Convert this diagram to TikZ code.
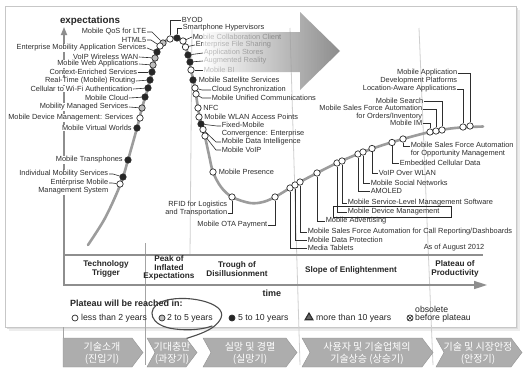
\documentclass[tikz,border=0pt]{standalone}
\usepackage{fontspec}
\setmainfont{Liberation Sans}
\newfontfamily\krfont{Noto Sans CJK KR}
\usetikzlibrary{calc, arrows.meta, shapes.geometric}
\definecolor{curveGray}{HTML}{9C9C9C}
\definecolor{axisGray}{HTML}{8E8E8E}
\definecolor{sepGray}{HTML}{CFCFCF}
\definecolor{noteGray}{HTML}{A4A4A4}
\definecolor{chevGray}{HTML}{ADADAD}
\definecolor{dotGray}{HTML}{BEBEBE}
\definecolor{inkGray}{HTML}{2E2E2E}

\begin{document}
\begin{tikzpicture}[
    x=1pt, y=-1pt,
    >=Stealth,
    lbl/.style={font=\fontsize{7.4}{8}\selectfont, inner sep=0.6pt, text=inkGray},
    lblL/.style={lbl, anchor=east, fill=white, align=right},
    lblR/.style={lbl, anchor=west, align=left},
    leader/.style={draw=inkGray, line width=0.6pt},
    dotbase/.style={circle, draw=inkGray, line width=0.7pt, minimum size=6.4pt, inner sep=0pt},
    wdot/.style={dotbase, fill=white},
    gdot/.style={dotbase, fill=dotGray},
    bdot/.style={dotbase, fill=black!85},
    phase/.style={font=\bfseries\fontsize{8.2}{8.6}\selectfont, align=center, text=black!85},
    legend/.style={font=\fontsize{8.7}{9}\selectfont, anchor=west, inner sep=0pt, text=black!85},
    chevron/.style={fill=chevGray, draw=chevGray!85!black, line width=0.4pt},
    krtext/.style={font=\krfont\fontsize{10}{12}\selectfont, text=white, align=center},
    axis/.style={draw=axisGray, line width=1.6pt},
]
\useasboundingbox (0,0) rectangle (528,372);

% ============================================
% Panel with shadow
% ============================================
\fill[black!7] (9,10) rectangle (520,331);
\fill[black!13] (7,8) rectangle (518,329);
\draw[black!22, fill=white] (5,6) rectangle (516,327);

% phase separators inside the chart
\draw[sepGray, line width=0.8pt] (192,28) -- (190,255);
\draw[sepGray, line width=0.8pt] (290,28) -- (300,365);
\draw[sepGray, line width=0.8pt] (419,28) -- (433,365);
\draw[noteGray, line width=0.8pt] (145,243) -- (145,365);
\draw[noteGray, line width=0.8pt] (63,327) -- (63,338);

% ============================================
% Axes
% ============================================
\draw[axis, -{Triangle[length=8pt, width=6pt]}] (64,285) -- (64,27);
\draw[axis] (63,255) -- (483,255);
\draw[axis, -{Triangle[length=13pt, width=8pt]}] (63,285) -- (487,285);
\node[font=\bfseries\fontsize{9.8}{10}\selectfont, text=black!85] (expect) at (90,21) {expectations};
\node[font=\bfseries\fontsize{9}{10}\selectfont, text=black!85] (time) at (272,293) {time};
\node[lblR] (asof) at (423,248) {As of August 2012};

% hype curve
\draw[curveGray, line width=2.6pt, line cap=round] plot[smooth, tension=0.55] coordinates {
    (88,245) (104,220) (116,195) (123,177) (128,160) (137,128) (142,108) (148,88)
    (152,72) (155,58) (160,46) (166,40.5) (173,37.5) (179,38.5) (184,43) (188,55)
    (191,70) (195,88) (198,108) (201,124) (205,137) (209,155) (213,172) (221,187)
    (232,197) (250,203) (263,202) (275,197) (290,188) (300,182) (317,173) (337,163)
    (358,154) (380,146) (403,139) (430,132) (455,128) (483,126.5)};

% ============================================
% Technology Trigger (labels on the left)
% ============================================
\node[gdot] (qos) at (163,43) {};
\node[lblL] (qosT) at (147,32) {Mobile QoS for LTE};
\draw[leader] (qosT.east) -- ++(5,0) -- (qos);
\node[wdot] (html) at (160,46) {};
\node[lblL] (htmlT) at (147,40) {HTML5};
\draw[leader] (htmlT.east) -- ++(4,0) -- (html);
\node[bdot] (emas) at (157,52) {};
\node[lblL] (emasT) at (147,48) {Enterprise Mobility Application Services};
\draw[leader] (emasT.east) -- (emas);
\node[gdot] (wwan) at (155,58) {};
\node[lblL] (wwanT) at (139,57) {VoIP Wireless WAN};
\draw[leader] (wwanT.east) -- (wwan);
\node[gdot] (webapp) at (153,65) {};
\node[lblL] (webappT) at (139,64) {Mobile Web Applications};
\draw[leader] (webappT.east) -- (webapp);
\node[bdot] (context) at (152,72) {};
\node[lblL] (contextT) at (138,72) {Context-Enriched Services};
\draw[leader] (contextT.east) -- (context);
\node[bdot] (routing) at (150,80) {};
\node[lblL] (routingT) at (136,81) {Real-Time (Mobile) Routing};
\draw[leader] (routingT.east) -- (routing);
\node[bdot] (wifi) at (148,88) {};
\node[lblL] (wifiT) at (133,89) {Cellular to Wi-Fi Authentication};
\draw[leader] (wifiT.east) -- (wifi);
\node[bdot] (cloud) at (145,97) {};
\node[lblL] (cloudT) at (129,98) {Mobile Cloud};
\draw[leader] (cloudT.east) -- (cloud);
\node[gdot] (managed) at (142,108) {};
\node[lblL] (managedT) at (129,107) {Mobility Managed Services};
\draw[leader] (managedT.east) -- (managed);
\node[wdot] (mdms) at (140,118) {};
\node[lblL] (mdmsT) at (134,118) {Mobile Device Management: Services};
\node[bdot] (virtual) at (137,128) {};
\node[lblL] (virtualT) at (132.5,128) {Mobile Virtual Worlds};
\node[bdot] (transph) at (128,160) {};
\node[lblL] (transphT) at (123.5,160) {Mobile Transphones};
\node[bdot] (indiv) at (123,177) {};
\node[lblL] (indivT) at (109,174) {Individual Mobility Services};
\draw[leader] (indivT.east) -- ++(4,0) -- (indiv);
\node[wdot] (emms) at (120,184) {};
\node[lblL] (emmsT) at (109,187) {Enterprise Mobile\\Management System};
\draw[leader] ($(emmsT.east)+(0,-4)$) -- ++(3,0) -- (emms);

% ============================================
% Peak of Inflated Expectations
% ============================================
\node[wdot] (byod) at (170,39) {};
\node[lblR] (byodT) at (181,20) {BYOD};
\draw[leader] (byod) |- (byodT.west);
\node[bdot] (hyper) at (177,38) {};
\node[lblR] (hyperT) at (182,28) {Smartphone Hypervisors};
\draw[leader] (hyper) |- (hyperT.west);
\node[wdot] (collab) at (183,41) {};
\node[lblR] (collabT) at (192,37) {Mobile Collaboration Client};
\draw[leader] (collab) -- (collabT.west);
\node[wdot] (share) at (185.5,47) {};
\node[lblR] (shareT) at (195,45) {Enterprise File Sharing};
\draw[leader] (share) -- (shareT.west);
\node[bdot] (stores) at (188,55) {};
\node[lblR] (storesT) at (203,53) {Application Stores};
\draw[leader] (stores) -- (storesT.west);
\node[bdot] (augment) at (190,62) {};
\node[lblR] (augmentT) at (203,61) {Augmented Reality};
\draw[leader] (augment) -- (augmentT.west);
\node[wdot] (mbi) at (191,70) {};
\node[lblR] (mbiT) at (203,70) {Mobile BI};
\draw[leader] (mbi) -- (mbiT.west);

% ============================================
% Trough of Disillusionment
% ============================================
\node[bdot] (satell) at (193,80) {};
\node[lblR] (satellT) at (198,80) {Mobile Satellite Services};
\node[wdot] (sync) at (195,88) {};
\node[lblR] (syncT) at (211,90) {Cloud Synchronization};
\draw[leader] (sync) -- ++(7,2) -- (syncT.west);
\node[wdot] (unified) at (196,94) {};
\node[lblR] (unifiedT) at (211,98) {Mobile Unified Communications};
\draw[leader] (unified) -- ++(6,4) -- (unifiedT.west);
\node[wdot] (nfc) at (198,108) {};
\node[lblR] (nfcT) at (202.5,108) {NFC};
\node[wdot] (wlan) at (199,117) {};
\node[lblR] (wlanT) at (203.5,117) {Mobile WLAN Access Points};
\node[bdot] (fmc) at (201,124) {};
\node[lblR] (fmcT) at (221,130) {Fixed-Mobile\\Convergence: Enterprise};
\draw[leader] (fmc) -- ($(fmcT.west)+(-4,-4)$) -- ($(fmcT.west)+(0,-4)$);
\node[wdot] (mdi) at (203,129.5) {};
\node[lblR] (mdiT) at (221,142) {Mobile Data Intelligence};
\draw[leader] (mdi) -- ($(mdiT.west)+(-5,0)$) -- (mdiT.west);
\node[wdot] (voip) at (205,136) {};
\node[lblR] (voipT) at (221,150) {Mobile VoIP};
\draw[leader] (voip) -- ($(voipT.west)+(-5,0)$) -- (voipT.west);
\node[wdot] (presence) at (213,172) {};
\node[lblR] (presenceT) at (218,172) {Mobile Presence};
\node[wdot] (rfid) at (232,197) {};
\node[lblL, fill=none] (rfidT) at (228,209) {RFID for Logistics\\and Transportation};
\draw[leader] (rfid) |- ($(rfidT.east)+(0,4)$);
\node[wdot] (ota) at (275,197) {};
\node[lblL, fill=none] (otaT) at (268,225) {Mobile OTA Payment};
\draw[leader] (ota) |- (otaT.east);

% ============================================
% Slope of Enlightenment
% ============================================
\node[wdot] (tablet) at (290,188) {};
\node[lblR] (tabletT) at (307,248) {Media Tablets};
\draw[leader] (tablet) |- (tabletT.west);
\node[wdot] (protect) at (295,185) {};
\node[lblR] (protectT) at (307,240) {Mobile Data Protection};
\draw[leader] (protect) |- (protectT.west);
\node[wdot] (callrep) at (300,182) {};
\node[lblR] (callrepT) at (307,232) {Mobile Sales Force Automation for Call Reporting/Dashboards};
\draw[leader] (callrep) |- (callrepT.west);
\node[wdot] (advert) at (317,173) {};
\node[lblR] (advertT) at (325,221) {Mobile Advertising};
\draw[leader] (advert) |- (advertT.west);
\node[wdot] (mdm) at (337,163) {};
\node[lblR] (mdmT) at (347,212) {Mobile Device Management};
\draw[leader] (mdm) |- (mdmT.west);
\draw[black!85, line width=1pt] ($(mdmT.south west)+(-14,1)$) rectangle ($(mdmT.north east)+(11,-1)$);
\node[wdot] (slm) at (342,161) {};
\node[lblR] (slmT) at (347,203) {Mobile Service-Level Management Software};
\draw[leader] (slm) |- (slmT.west);
\node[wdot] (amoled) at (358,154) {};
\node[lblR] (amoledT) at (370,191) {AMOLED};
\draw[leader] (amoled) |- (amoledT.west);
\node[wdot] (social) at (363,152) {};
\node[lblR] (socialT) at (370,183) {Mobile Social Networks};
\draw[leader] (social) |- (socialT.west);
\node[wdot] (owlan) at (372,148.5) {};
\node[lblR] (owlanT) at (378,173) {VoIP Over WLAN};
\draw[leader] (owlan) |- (owlanT.west);
\node[wdot] (embed) at (392,142.5) {};
\node[lblR] (embedT) at (399,163) {Embedded Cellular Data};
\draw[leader] (embed) |- (embedT.west);
\node[wdot] (oppmgmt) at (403,139) {};
\node[lblR] (oppmgmtT) at (410,149.5) {Mobile Sales Force Automation\\for Opportunity Management};
\draw[leader] (oppmgmt) |- ($(oppmgmtT.west)+(0,-3.5)$);

% ============================================
% Plateau of Productivity side (labels above)
% ============================================
\node[wdot] (mim) at (430,132) {};
\node[lblR, anchor=east] (mimT) at (423,123) {Mobile IM};
\draw[leader] (mimT.east) -| (mim);
\node[wdot] (orders) at (436,131) {};
\node[lblR, anchor=east, align=right] (ordersT) at (423,112.5) {Mobile Sales Force Automation\\for Orders/Inventory};
\draw[leader] ($(ordersT.east)+(0,-3.5)$) -| (orders);
\node[wdot] (search) at (442,130) {};
\node[lblR, anchor=east] (searchT) at (424,101) {Mobile Search};
\draw[leader] (searchT.east) -| (search);
\node[wdot] (locaware) at (463,127) {};
\node[lblR, anchor=east] (locawareT) at (457,89) {Location-Aware Applications};
\draw[leader] (locawareT.east) -| (locaware);
\node[wdot] (madp) at (470,126) {};
\node[lblR, anchor=east, align=right] (madpT) at (458,77) {Mobile Application\\Development Platforms};
\draw[leader] ($(madpT.east)+(0,-4)$) -| (madp);

% big grey arrow over the peak
\shade[left color=white, right color=black!62, fill opacity=0.72]
    (203,32) -- (300,32) -- (300,12) -- (340,51) -- (300,90) -- (300,72) -- (203,72) -- cycle;

% ============================================
% Phase names
% ============================================
\node[phase] (trigger) at (106,269) {Technology\\Trigger};
\node[phase] (peak) at (169,268) {Peak of\\Inflated\\Expectations};
\node[phase] (trough) at (237,269) {Trough of\\Disillusionment};
\node[phase] (slope) at (351,270) {Slope of Enlightenment};
\node[phase] (plateau) at (455,269) {Plateau of\\Productivity};

% ============================================
% Legend
% ============================================
\node[legend, font=\bfseries\fontsize{9}{10}\selectfont] (reached) at (70,303) {Plateau will be reached in:};
\node[wdot, minimum size=6pt] (symA) at (75,318) {};
\node[legend] (legA) at (81,318) {less than 2 years};
\node[gdot, minimum size=6pt] (symB) at (162,318) {};
\node[legend] (legB) at (167,318) {2 to 5 years};
\node[bdot, minimum size=6pt] (symC) at (232,318) {};
\node[legend] (legC) at (238,318) {5 to 10 years};
\node[regular polygon, regular polygon sides=3, draw=inkGray, fill=black!60, line width=1.1pt,
      inner sep=0pt, minimum size=9pt] (symD) at (309,317.5) {};
\node[legend] (legD) at (316,318) {more than 10 years};
\node[wdot, minimum size=6pt] (symE) at (410,318) {};
\draw[inkGray, line width=0.5pt] (symE.north west) -- (symE.south east);
\draw[inkGray, line width=0.5pt] (symE.north east) -- (symE.south west);
\node[legend] (legE) at (415,318) {before plateau};
\node[legend] (legE2) at (415,309) {obsolete};

% hand-drawn loop round the 2 to 5 years mark
\draw[black!70, line width=1.1pt, line cap=round]
    (168,345) .. controls (190,336) and (214,333) .. (221,318)
    .. controls (228,302) and (182,293) .. (161,302)
    .. controls (146,309) and (149,326) .. (175,329)
    .. controls (190,331) and (204,329) .. (212,326);

% ============================================
% Korean phase chevrons
% ============================================
\draw[chevron] (63,338) -- (132,338) -- (143,352.5) -- (132,367) -- (63,367) -- cycle;
\draw[chevron] (147,338) -- (186,338) -- (197,352.5) -- (186,367) -- (147,367) -- (155,352.5) -- cycle;
\draw[chevron] (203,338) -- (286,338) -- (297,352.5) -- (286,367) -- (203,367) -- (211,352.5) -- cycle;
\draw[chevron] (302,338) -- (422,338) -- (433,352.5) -- (422,367) -- (302,367) -- (310,352.5) -- cycle;
\draw[chevron] (436,338) -- (511,338) -- (522,352.5) -- (511,367) -- (436,367) -- (444,352.5) -- cycle;
\node[krtext] (kr1) at (102,353) {기술소개\\(진입기)};
\node[krtext] (kr2) at (172,353) {기대충만\\(과장기)};
\node[krtext] (kr3) at (250,353) {실망 및 경멸\\(실망기)};
\node[krtext] (kr4) at (367,353) {사용자 및 기술업체의\\기술상승 (상승기)};
\node[krtext] (kr5) at (478,353) {기술 및 시장안정\\(안정기)};

\end{tikzpicture}
\end{document}
